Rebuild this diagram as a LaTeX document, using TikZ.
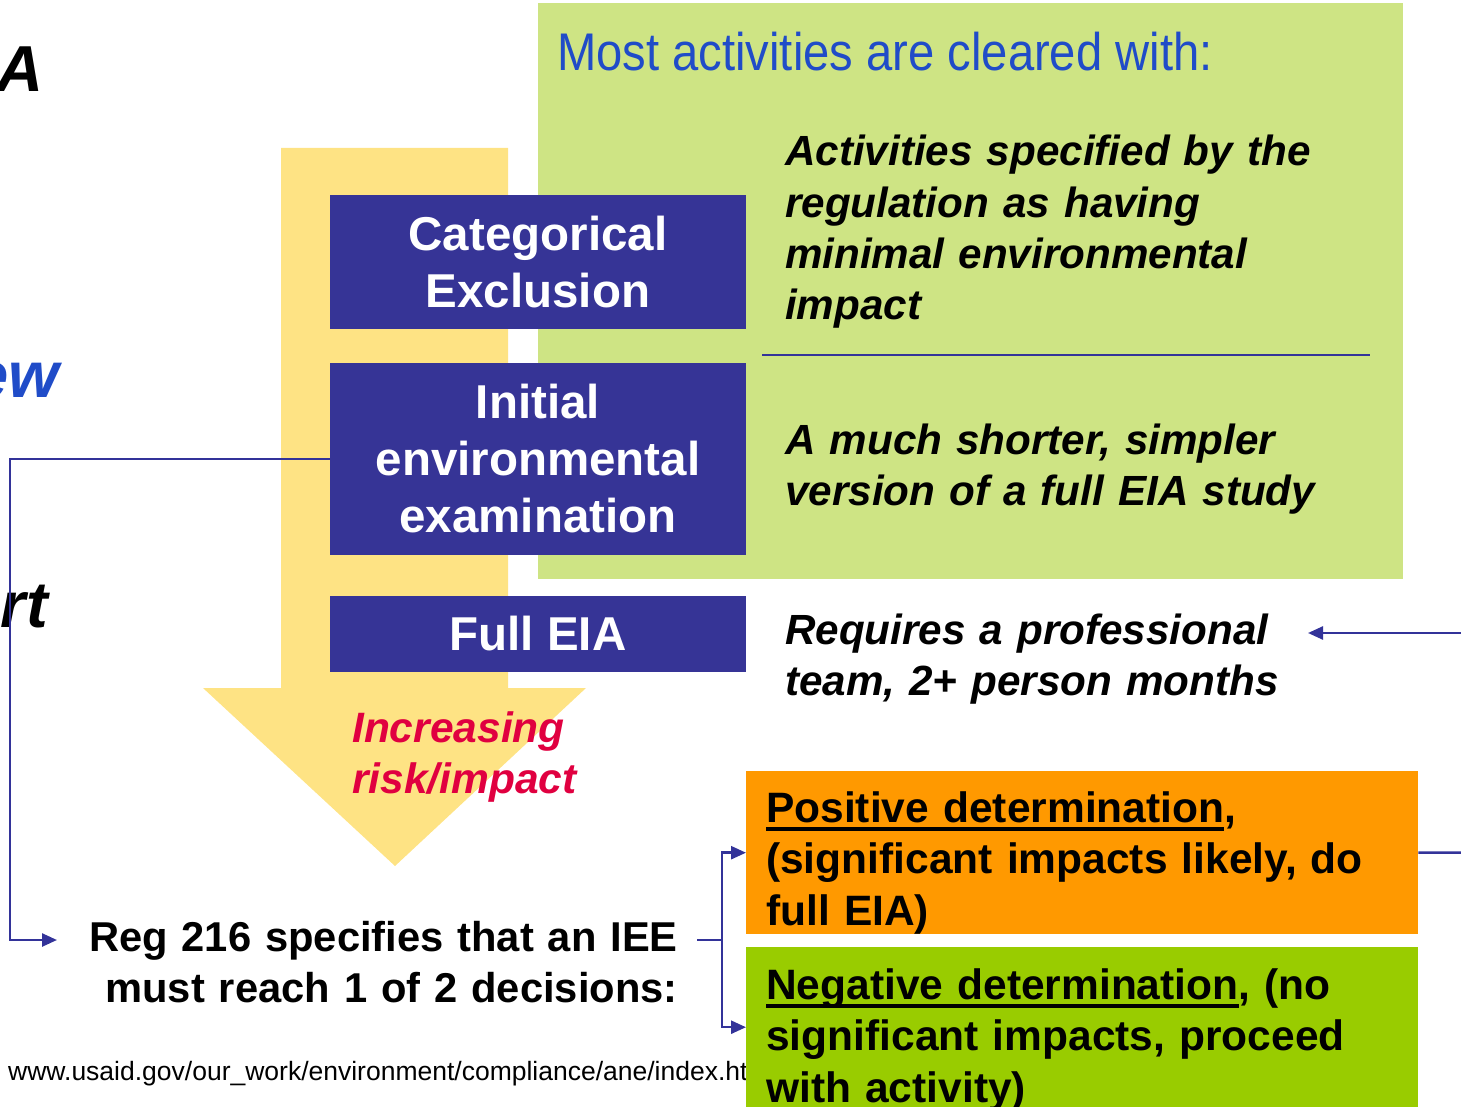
\documentclass[tikz,border=0pt]{standalone}
\usepackage{fontspec}
\setmainfont{Liberation Sans}
\newfontfamily\narrowfont[FakeStretch=0.89]{Liberation Sans}
\usetikzlibrary{arrows.meta}
\definecolor{boxgreen}{RGB}{206,228,132}
\definecolor{arrowyellow}{RGB}{254,227,132}
\definecolor{boxblue}{RGB}{54,52,150}
\definecolor{headblue}{RGB}{32,76,200}
\definecolor{riskred}{RGB}{224,0,64}
\definecolor{posorange}{RGB}{255,153,0}
\definecolor{neglime}{RGB}{153,204,0}
\definecolor{connblue}{RGB}{51,51,153}
\newsavebox\ulbox
\newcommand\myul[1]{\sbox\ulbox{#1}\rlap{\rule[-8.5pt]{\wd\ulbox}{3.5pt}}\usebox\ulbox}
\tikzset{
  bluebox/.style={fill=boxblue, text=white, inner sep=0pt, align=center,
    minimum width=416pt, font=\fontsize{47.5}{57}\selectfont\bfseries},
  rtext/.style={anchor=base west, inner sep=0pt, align=left, text width=660pt,
    font=\fontsize{42.2}{51.3}\selectfont\bfseries\itshape},
  dtext/.style={anchor=base west, inner sep=0pt, align=left, text width=660pt,
    font=\fontsize{42.5}{51.5}\selectfont\bfseries},
  frag/.style={anchor=base east, inner sep=0pt, font=\fontsize{65}{70}\selectfont\bfseries\itshape},
  conn/.style={draw=connblue, line width=2.5pt},
  tip/.style={-{Triangle[length=15pt,width=13pt]}},
  panel/.style={inner sep=0pt, anchor=north west}
}
\begin{document}
\begin{tikzpicture}[x=1pt,y=-1pt]
\useasboundingbox (0,0) rectangle (1461,1107);
% green panel
\node[panel, fill=boxgreen, minimum width=865pt, minimum height=576pt] (panel) at (538,3) {};
% yellow arrow
\fill[arrowyellow] (281,148) -- (508,148) -- (508,688) -- (586,688) -- (395,866) -- (203,688) -- (281,688) -- cycle;
% left fragments
\node[frag] (fragA) at (44,92) {A};
\node[frag, text=headblue] (fragew) at (59,397) {ew};
\node[frag] (fragrt) at (48,627) {rt};
% heading
\node[anchor=base west, inner sep=0pt, font=\narrowfont\fontsize{53}{60}\selectfont, text=headblue] (head) at (557,71) {Most activities are cleared with:};
% blue boxes
\node[bluebox, minimum height=134pt] (ce) at (538,262) {Categorical\\Exclusion};
\node[bluebox, minimum height=192pt] (iee) at (538,459) {Initial\\environmental\\examination};
\node[bluebox, minimum height=76pt] (full) at (538,634) {Full EIA};
% right texts
\node[rtext] (t1) at (785,166) {Activities specified by the\\regulation as having\\minimal environmental\\impact};
\draw[draw=connblue, line width=2pt] (762,355) -- (1370,355);
\node[rtext] (t2) at (785,454) {A much shorter, simpler\\version of a full EIA study};
\node[rtext] (t3) at (785,644) {Requires a professional\\team, 2+ person months};
\node[rtext, font=\fontsize{42.5}{51.3}\selectfont\bfseries\itshape, text=riskred] (risk) at (352,742) {Increasing\\risk/impact};
% reg text
\node[anchor=base east, inner sep=0pt, align=right, text width=660pt,
  font=\fontsize{41.7}{51}\selectfont\bfseries] (reg) at (678,951) {Reg 216 specifies that an IEE\\must reach 1 of 2 decisions:};
% url
\node[anchor=base west, inner sep=0pt, font=\fontsize{26.5}{30}\selectfont] (url) at (8,1080) {www.usaid.gov/our\_work/environment/compliance/ane/index.ht};
% decision boxes
\node[panel, fill=posorange, minimum width=672pt, minimum height=163pt] (pos) at (746,771) {};
\node[panel, fill=neglime, minimum width=672pt, minimum height=160pt] (neg) at (746,947) {};
\node[dtext] (post) at (766,822) {\myul{Positive determination},\\(significant impacts likely, do\\full EIA)};
\node[dtext] (negt) at (766,999) {\myul{Negative determination}, (no\\significant impacts, proceed\\with activity)};
% connectors
\coordinate (regin) at (57,940);
\coordinate (regout) at (697,940);
\coordinate (fork) at (722,940);
\coordinate (posout) at (1461,852.5);
\coordinate (reqsrc) at (1461,633);
\coordinate (reqin) at (1308,633);
\draw[conn, tip] (iee.west) -| (10,700) |- (regin);
\draw[conn] (regout) -- (fork);
\draw[conn, tip] (fork) |- (pos.west);
\draw[conn, tip] (fork) |- (neg.west);
\draw[conn] (pos.east) -- (posout);
\draw[conn, tip] (reqsrc) -- (reqin);
\end{tikzpicture}
\end{document}
